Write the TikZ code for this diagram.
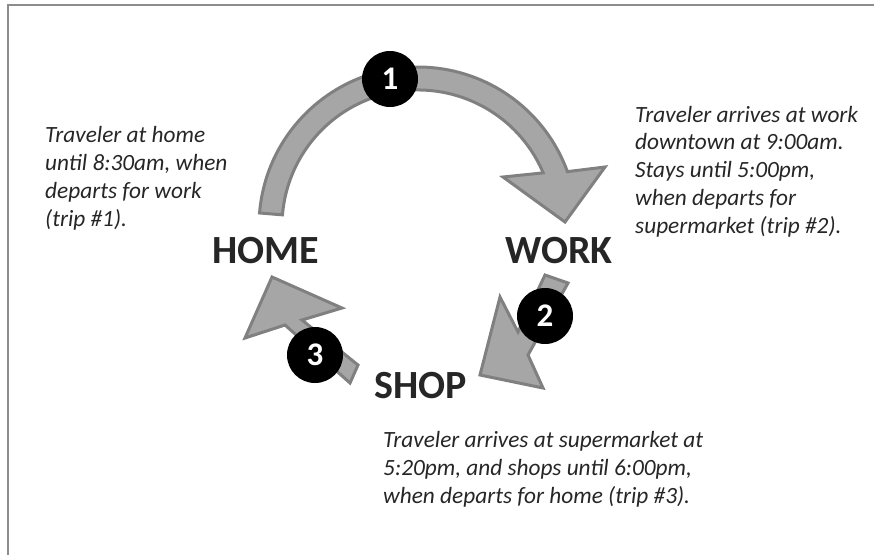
\documentclass[tikz,border=0pt]{standalone}
\usepackage{fontspec}
\setmainfont{Carlito}

\definecolor{tripfill}{HTML}{A6A6A6}
\definecolor{tripline}{HTML}{808080}
\definecolor{framegray}{HTML}{8C8C8C}
\definecolor{inkgray}{HTML}{262626}

\tikzset{
  trip/.style={fill=tripfill, draw=tripline, line width=3pt, line join=miter},
  badge/.style={circle, fill=black, text=white, minimum size=56pt, inner sep=0pt,
    font=\bfseries\fontsize{33}{33}\selectfont},
  place/.style={anchor=base, inner sep=0pt, text=inkgray,
    font=\bfseries\fontsize{40}{40}\selectfont},
  note/.style={anchor=base west, inner sep=0pt, align=left, text=inkgray,
    font=\itshape\fontsize{23.3}{27.75}\selectfont},
}

\begin{document}
\begin{tikzpicture}[x=1pt,y=1pt]
\useasboundingbox (0,0) rectangle (874,-555);

% frame
\draw[framegray, line width=1.5pt] (8,-555) -- (8,-5) -- (874,-5);

% trip 1: curved arrow home -> work
\coordinate (hub) at (418,-226);
\draw[trip] ([shift={(175.3:159)}]hub) arc[start angle=175.3, end angle=20, radius=159]
  -- (605,-167) -- (565,-222) -- (503,-177)
  -- ([shift={(23:136)}]hub) arc[start angle=23, end angle=175.3, radius=136] -- cycle;

% trip 2: work -> shop
\draw[trip] (545,-275) -- (518,-332) -- (500,-297) -- (480,-375)
  -- (543,-388) -- (528,-355) -- (568,-283) -- cycle;

% trip 3: shop -> home
\draw[trip] (358,-365) -- (302,-320) -- (342,-308) -- (272,-277)
  -- (245,-338) -- (285,-325) -- (350,-383) -- cycle;

\node[badge] (one) at (390,-79) {1};
\node[badge] (two) at (545,-316) {2};
\node[badge] (three) at (315,-355) {3};

\node[place] (home) at (266,-263) {HOME};
\node[place] (work) at (559,-263) {WORK};
\node[place] (shop) at (421,-398) {SHOP};

% notes (base = last line)
\node[note] (homenote) at (45,-226) {Traveler at home\\until 8:30am, when\\departs for work\\(trip \#1).};
\node[note] (worknote) at (635,-233) {Traveler arrives at work\\downtown at 9:00am.\\Stays until 5:00pm,\\when departs for\\supermarket (trip \#2).};
\node[note] (shopnote) at (383,-503) {Traveler arrives at supermarket at\\5:20pm, and shops until 6:00pm,\\when departs for home (trip \#3).};
\end{tikzpicture}
\end{document}
